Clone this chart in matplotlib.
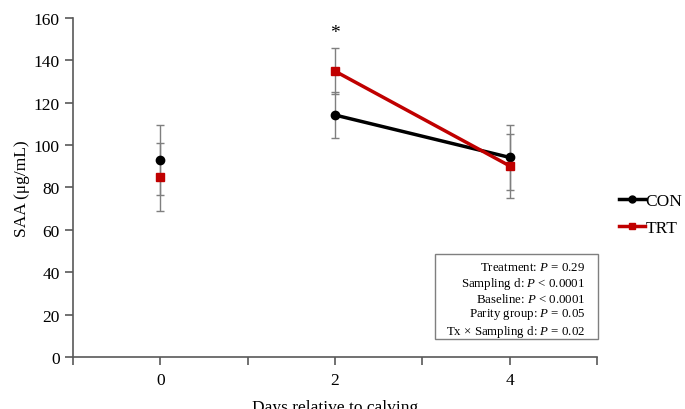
import matplotlib.pyplot as plt
from matplotlib.patches import Rectangle
import numpy as np

# data
days = ["0", "2", "4"]
con_mean = [93.0, 114.2, 94.2]
con_se = [16.4, 10.8, 15.5]
trt_mean = [85.0, 134.9, 90.2]
trt_se = [16.0, 10.9, 15.2]
stats_lines = [
    "Treatment: $\\mathit{P}$ = 0.29",
    "Sampling d: $\\mathit{P}$ < 0.0001",
    "Baseline: $\\mathit{P}$ < 0.0001",
    "Parity group: $\\mathit{P}$ = 0.05",
    "Tx × Sampling d: $\\mathit{P}$ = 0.02",
]

plt.rcParams["font.family"] = ["Liberation Serif", "DejaVu Serif"]
plt.rcParams["mathtext.fontset"] = "custom"
plt.rcParams["mathtext.it"] = "Liberation Serif:italic"
plt.rcParams["mathtext.rm"] = "Liberation Serif"

x = np.arange(len(days))
con_color = "black"
trt_color = "#C00000"
err_color = "#7f7f7f"
axis_color = "#595959"

fig = plt.figure(figsize=(6.85, 4.1), dpi=100)
ax = fig.add_axes([0.1066, 0.1268, 0.7649, 0.8269])

for mean, se in ((con_mean, con_se), (trt_mean, trt_se)):
    ax.errorbar(x, mean, yerr=se, fmt="none", ecolor=err_color,
                elinewidth=1.0, capsize=3, capthick=1.0, zorder=1)

# day 0 is not connected to the later days
ax.plot(x[1:], con_mean[1:], color=con_color, lw=2.5, zorder=2)
ax.plot(x[1:], trt_mean[1:], color=trt_color, lw=2.5, zorder=2)
ax.plot(x, con_mean, "o", color=con_color, ms=6, zorder=3)
ax.plot(x, trt_mean, "s", color=trt_color, ms=6, zorder=3)

# legend handles
h_con, = ax.plot([], [], "-o", color=con_color, lw=2.5, ms=5)
h_trt, = ax.plot([], [], "-s", color=trt_color, lw=2.5, ms=5)
fig.legend([h_con, h_trt], ["CON", "TRT"], loc="center left",
           bbox_to_anchor=(0.903, 0.475), frameon=False, fontsize=12.5,
           handlelength=1.5, handletextpad=0.05, labelspacing=0.6,
           borderpad=0, borderaxespad=0)

ax.text(1, 149, "*", ha="center", va="bottom", fontsize=14)

# statistics box
ax.add_patch(Rectangle((0.691, 0.053), 0.31, 0.251, transform=ax.transAxes,
                       fc="white", ec="#7f7f7f", lw=1, clip_on=False, zorder=4))
ax.text(0.977, 0.168, "\n".join(stats_lines), transform=ax.transAxes,
        ha="right", va="center", fontsize=9.3, linespacing=1.13, zorder=5)

ax.set_xlim(-0.5, 2.5)
ax.set_ylim(0, 160)
ax.set_yticks(np.arange(0, 161, 20))
ax.set_xticks(x)
ax.set_xticklabels(days)
ax.set_xticks([-0.5, 0.5, 1.5, 2.5], minor=True)
ax.tick_params(axis="both", labelsize=12.5, color=axis_color, length=6, width=1.2)
ax.tick_params(axis="x", which="minor", color=axis_color, length=6, width=1.2)
ax.tick_params(axis="x", pad=5)

for side in ("top", "right"):
    ax.spines[side].set_visible(False)
for side in ("left", "bottom"):
    ax.spines[side].set_color(axis_color)
    ax.spines[side].set_linewidth(1.2)

ax.set_ylabel("SAA (μg/mL)", fontsize=12.5, labelpad=3)
ax.set_xlabel("Days relative to calving", fontsize=12.5, labelpad=8)

fig.savefig("out.png", dpi=100)
